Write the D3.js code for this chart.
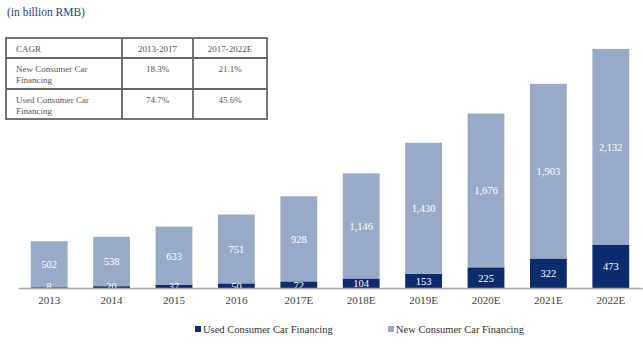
<!DOCTYPE html>
<html>
<head>
<meta charset="utf-8">
<script src="https://cdn.jsdelivr.net/npm/d3@7"></script>
<style>
  body { margin: 0; background: #fff; }
</style>
</head>
<body>
<div id="chart"></div>
<script>
// values in billion RMB
const years = ["2013", "2014", "2015", "2016", "2017E", "2018E", "2019E", "2020E", "2021E", "2022E"];
const usedFinancing = [8, 20, 37, 50, 72, 104, 153, 225, 322, 473];
const newFinancing = [502, 538, 633, 751, 928, 1146, 1430, 1676, 1903, 2132];
const seriesNames = ["Used Consumer Car Financing", "New Consumer Car Financing"];
const cagrHeader = ["CAGR", "2013-2017", "2017-2022E"];
const cagrRows = [
  ["New Consumer Car Financing", "18.3%", "21.1%"],
  ["Used Consumer Car Financing", "74.7%", "45.6%"]
];

const width = 643, height = 351;
const darkBlue = "#0b2b6f", lightBlue = "#98aac8";
const serif = "Liberation Serif, Tinos, Times New Roman, serif";

const svg = d3.select("#chart").append("svg")
  .attr("width", width)
  .attr("height", height)
  .style("font-family", serif);

svg.append("text")
  .attr("x", 7).attr("y", 16)
  .attr("fill", "#1f3f86")
  .style("font-family", serif)
  .style("font-size", "11.5px")
  .text("(in billion RMB)");

const data = years.map((y, i) => ({ year: y, used: usedFinancing[i], new: newFinancing[i] }));
const stacked = d3.stack().keys(["used", "new"])(data);

const x = d3.scaleBand().domain(years).range([18, 642]).paddingInner(0.41).paddingOuter(0.205);
const y = d3.scaleLinear().domain([0, 2605]).range([288, 49]);

const colors = { used: darkBlue, new: lightBlue };

svg.selectAll("g.layer")
  .data(stacked)
  .enter().append("g")
  .attr("class", "layer")
  .attr("fill", d => colors[d.key])
  .selectAll("rect")
  .data(d => d)
  .enter().append("rect")
  .attr("x", d => x(d.data.year))
  .attr("width", x.bandwidth())
  .attr("y", d => y(d[1]))
  .attr("height", d => y(d[0]) - y(d[1]));

// labels drawn after all rects so the small ones stay visible
svg.selectAll("g.labels")
  .data(stacked)
  .enter().append("g")
  .attr("class", "labels")
  .selectAll("text")
  .data(d => d)
  .enter().append("text")
  .attr("x", d => x(d.data.year) + x.bandwidth() / 2)
  .attr("y", d => Math.min((y(d[0]) + y(d[1])) / 2 + 4, 290))
  .attr("text-anchor", "middle")
  .attr("fill", "#fff")
  .style("font-family", serif)
  .style("font-size", "10.5px")
  .text(d => d3.format(",")(d[1] - d[0]));

// baseline axis
const axis = svg.append("g")
  .attr("transform", `translate(0,${y(0)})`)
  .call(d3.axisBottom(x).tickSize(0).tickPadding(8));
axis.select(".domain").attr("stroke", "#a6a6a6").attr("stroke-width", 1.5);
axis.selectAll("text")
  .attr("fill", "#444")
  .style("font-family", serif)
  .style("font-size", "11px");

// legend
const legendPos = [195, 388];
seriesNames.forEach((name, i) => {
  const g = svg.append("g").attr("transform", `translate(${legendPos[i]},329)`);
  g.append("rect").attr("x", 0).attr("y", -3).attr("width", 6).attr("height", 6)
    .attr("fill", i === 0 ? darkBlue : lightBlue);
  g.append("text").attr("x", 8).attr("y", 4).attr("fill", "#333")
    .style("font-family", serif)
    .style("font-size", "10.5px").text(name);
});

// CAGR table
const colX = [6, 122, 193, 267];
const rowY = [38, 58, 89, 119];
const table = svg.append("g");
table.append("rect")
  .attr("x", colX[0]).attr("y", rowY[0])
  .attr("width", colX[3] - colX[0]).attr("height", rowY[3] - rowY[0])
  .attr("fill", "none").attr("stroke", "#666").attr("stroke-width", 1.8);
[rowY[1], rowY[2]].forEach(yy => {
  table.append("line").attr("x1", colX[0]).attr("x2", colX[3]).attr("y1", yy).attr("y2", yy)
    .attr("stroke", "#666").attr("stroke-width", 1.8);
});
[colX[1], colX[2]].forEach(xx => {
  table.append("line").attr("x1", xx).attr("x2", xx).attr("y1", rowY[0]).attr("y2", rowY[3])
    .attr("stroke", "#666").attr("stroke-width", 1.8);
});

const cellText = (col, top, anchorLeft) => table.append("text")
  .attr("fill", "#555")
  .style("font-family", serif)
  .style("font-size", "9px")
  .attr("text-anchor", anchorLeft ? "start" : "middle")
  .attr("x", anchorLeft ? colX[col] + 10 : (colX[col] + colX[col + 1]) / 2)
  .attr("y", top);

cagrHeader.forEach((h, i) => cellText(i, rowY[0] + 14, i === 0).text(h));

cagrRows.forEach((row, r) => {
  const top = rowY[r + 1] + 14;
  // wrap the series name onto two lines like the original
  const words = row[0].split(" ");
  const t = cellText(0, top, true);
  t.append("tspan").attr("x", colX[0] + 10).attr("dy", 0).text(words.slice(0, 3).join(" "));
  t.append("tspan").attr("x", colX[0] + 10).attr("dy", 11).text(words.slice(3).join(" "));
  cellText(1, top, false).text(row[1]);
  cellText(2, top, false).text(row[2]);
});
</script>
</body>
</html>
